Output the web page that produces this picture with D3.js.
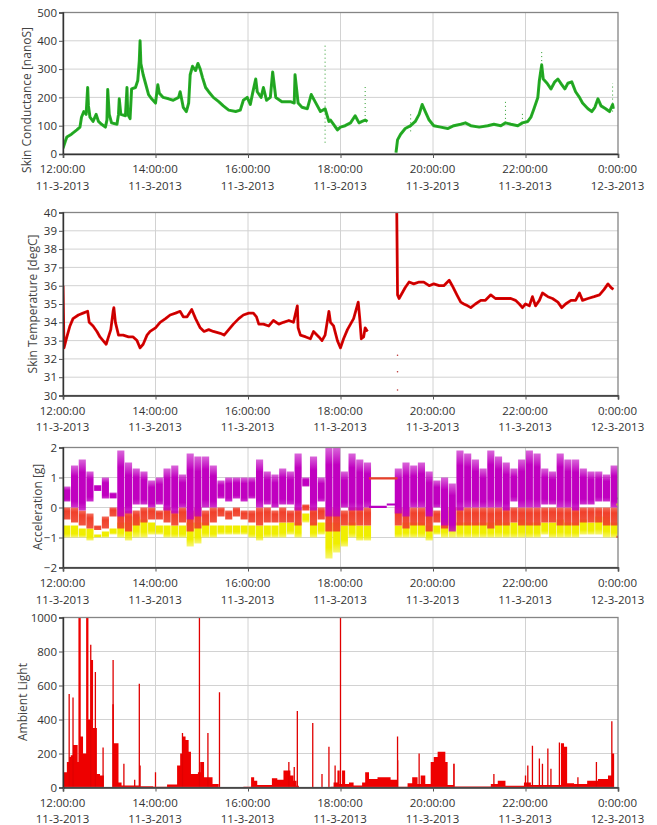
<!DOCTYPE html>
<html><head><meta charset="utf-8">
<script src="https://cdn.jsdelivr.net/npm/d3@7"></script>
<style>
body{margin:0;background:#fff;}
svg{display:block;font-family:"Open Sans",sans-serif;}
</style></head><body>
<svg id="c" width="657" height="825"></svg>
<script>
// ---------------- DATA ----------------
const startTime = [2013, 2, 11, 12, 0]; // 11-3-2013 12:00
const xTickMinutes = [0, 120, 240, 360, 480, 600, 720];
const xTimeLabels = ["12:00:00","14:00:00","16:00:00","18:00:00","20:00:00","22:00:00","0:00:00"];
const xDateLabels = ["11-3-2013","11-3-2013","11-3-2013","11-3-2013","11-3-2013","11-3-2013","12-3-2013"];

// Skin conductance [nanoS]: [minutes after 12:00, value]; null = gap
const scTicks = [0,100,200,300,400,500];
const conductance = [[0,20],[3,45],[5,60],[11,70],[18,85],[22,95],[24,130],[27,150],[30,140],[32,235],[33,170],[35,130],[39,115],[43,140],[46,115],[50,105],[55,95],[57,120],[58,228],[60,140],[63,110],[70,105],[72,140],[73,195],[75,140],[81,135],[83,235],[84,140],[87,125],[89,230],[94,235],[97,260],[99,330],[100,400],[101,320],[104,280],[107,250],[111,210],[115,195],[120,180],[123,245],[125,215],[130,200],[137,195],[143,190],[150,200],[152,220],[156,165],[160,150],[163,180],[165,280],[168,310],[172,295],[175,320],[178,300],[181,270],[185,235],[189,220],[195,200],[202,185],[208,170],[215,155],[224,150],[230,155],[234,190],[239,200],[243,175],[246,215],[250,265],[252,220],[257,200],[260,235],[264,190],[269,200],[272,290],[276,200],[284,185],[295,185],[300,180],[301,280],[305,180],[310,165],[317,160],[322,210],[327,185],[334,150],[340,160],[345,115],[347,120],[351,105],[356,85],[360,95],[366,100],[373,110],[379,135],[384,110],[388,115],[392,120],[395,115],[414,null],[432,5],[434,50],[438,70],[444,90],[451,100],[457,115],[462,140],[466,175],[470,150],[475,120],[481,100],[490,95],[499,90],[507,100],[516,105],[522,110],[529,100],[540,95],[551,100],[559,105],[568,100],[574,110],[581,105],[590,100],[596,110],[603,115],[607,130],[611,160],[616,200],[618,260],[621,315],[623,265],[628,250],[633,230],[638,255],[642,265],[647,245],[651,230],[655,250],[660,255],[665,220],[670,200],[674,180],[681,160],[686,150],[690,165],[694,195],[698,170],[704,160],[709,150],[713,175],[714,160]];
// scattered samples: [minute, low, high]
const conductanceScatter = [[340,40,390],[392,120,245],[451,80,150],[574,110,190],[596,110,150],[621,300,370],[713,150,250]];

// Skin temperature [degC]
const tempTicks = [30,31,32,33,34,35,36,37,38,39,40];
const temperature = [[0,36.0],[1.3,32.6],[5,33.2],[9,33.8],[13,34.2],[20,34.4],[26,34.5],[32,34.6],[34,34.0],[39,33.8],[44,33.5],[48,33.2],[52,33.0],[56,32.8],[59,33.2],[62,33.6],[65,34.6],[66,34.8],[68,34.0],[72,33.3],[78,33.3],[85,33.2],[91,33.2],[96,33.0],[100,32.6],[104,32.8],[109,33.3],[113,33.5],[120,33.7],[126,34.0],[133,34.2],[139,34.4],[146,34.5],[152,34.6],[156,34.3],[161,34.3],[167,34.7],[172,34.2],[178,33.7],[183,33.5],[189,33.6],[195,33.5],[204,33.4],[209,33.3],[215,33.6],[221,33.9],[228,34.2],[234,34.4],[241,34.5],[247,34.5],[251,34.3],[254,33.9],[260,33.9],[267,33.8],[273,34.1],[280,33.9],[286,34.0],[293,34.1],[299,34.0],[304,34.9],[305,33.7],[308,33.3],[315,33.2],[321,33.1],[325,33.5],[332,33.2],[336,33.0],[340,33.3],[345,34.6],[347,34.0],[351,33.8],[356,33.0],[360,32.6],[364,33.1],[369,33.6],[373,33.9],[377,34.2],[383,35.1],[385,34.2],[387,33.1],[390,33.2],[392,33.7],[395,33.5],[414,null],[433,40.0],[434,35.5],[436,35.3],[440,35.6],[444,35.9],[449,36.2],[455,36.1],[462,36.2],[468,36.2],[475,36.0],[481,36.1],[488,36.0],[494,36.0],[501,36.3],[505,36.0],[511,35.5],[516,35.1],[520,35.0],[525,34.9],[529,34.8],[535,35.0],[542,35.2],[548,35.2],[555,35.5],[561,35.3],[568,35.3],[574,35.3],[581,35.3],[587,35.2],[592,35.0],[596,34.8],[600,35.0],[605,34.9],[609,35.4],[613,34.9],[618,35.2],[622,35.6],[629,35.4],[635,35.3],[642,35.1],[647,34.8],[652,35.0],[659,35.2],[665,35.2],[670,35.6],[674,35.2],[681,35.3],[689,35.4],[696,35.5],[702,35.8],[707,36.1],[711,35.9],[714,35.8]];
const temperatureDots = [[434,32.2],[434,31.3],[434,30.3]];

// Acceleration [g]: ranges per 10-minute bin (72 bins), null = no samples
const accTicks = [-2,-1,0,1,2];
const accMagentaLo = [0.2,0.0,-0.1,0.2,0.55,0.3,0.3,-0.3,-0.2,0.1, 0.1,0.0,0.1,-0.1,-0.2,0.0,-0.4,-0.3,0.0,0.0, 0.3,0.2,0.3,0.2,0.3,0.0,0.1,0.0,0.1,0.1, -0.1,0.7,-0.1,0.2,-0.3,-0.3,0.0,-0.1,-0.1,0.0, null,null,null,-0.2,-0.3,0.0,0.0,-0.3,0.0,-0.6, -0.8,-0.1,0.0,0.0,0.0,0.0,0.0,-0.1,0.2,0.0, 0.0,0.0,0.1,0.1,0.0,0.0,-0.1,0.1,0.1,0.2, 0.2,0.0];
const accMagentaHi = [0.7,1.4,1.6,1.2,0.75,1.0,0.5,1.9,1.5,1.3, 1.2,0.9,1.0,1.3,1.4,1.1,1.8,1.7,1.7,1.4, 0.9,1.0,1.0,1.0,1.0,1.6,1.2,1.1,1.3,1.2, 1.8,1.0,1.7,1.0,2.0,2.0,1.2,1.8,1.6,1.5, null,null,null,1.3,1.5,1.4,1.5,1.2,0.9,1.0, 0.8,1.9,1.8,1.6,1.3,1.9,1.7,1.5,1.3,1.6, 1.9,1.8,1.3,1.2,1.8,1.6,1.6,1.3,1.2,1.2, 1.1,1.4];
const accRedLo = [-0.4,-0.5,-0.6,-0.7,-0.75,-0.7,-0.3,-0.7,-0.8,-0.6, -0.5,-0.4,-0.4,-0.5,-0.6,-0.5,-0.8,-0.7,-0.6,-0.5, -0.3,-0.4,-0.3,-0.4,-0.5,-0.6,-0.5,-0.5,-0.5,-0.5, -0.6,-0.1,-0.6,-0.4,-0.8,-0.8,-0.6,-0.6,-0.6,-0.6, null,null,null,-0.6,-0.7,-0.6,-0.6,-0.8,-0.5,-0.7, -0.6,-0.6,-0.6,-0.6,-0.6,-0.7,-0.6,-0.6,-0.5,-0.6, -0.6,-0.6,-0.5,-0.5,-0.6,-0.6,-0.6,-0.5,-0.5,-0.5, -0.6,-0.6];
const accRedHi = [0.0,0.0,-0.1,-0.2,-0.6,-0.3,0.0,0.0,-0.1,-0.1, 0.0,0.0,-0.1,0.0,-0.1,0.0,-0.1,0.0,-0.1,0.0, 0.0,-0.1,0.0,-0.1,-0.1,0.0,0.0,-0.1,0.0,-0.1, 0.0,0.1,0.0,0.0,0.0,0.0,-0.1,0.0,0.0,0.0, null,null,null,0.0,0.0,0.0,0.0,0.0,-0.1,-0.1, 0.0,0.0,0.0,0.0,0.0,0.0,0.0,0.0,0.0,0.0, 0.0,0.0,0.0,0.0,0.0,0.0,0.0,0.0,0.0,0.0, 0.0,0.0];
const accYellowLo = [-1.0,-1.0,-1.0,-1.1,-1.0,-1.0,-0.9,-1.0,-1.1,-1.0, -1.0,-0.9,-0.9,-1.0,-1.0,-1.0,-1.3,-1.2,-1.0,-1.0, -0.9,-0.9,-0.9,-0.9,-1.0,-1.1,-1.0,-1.0,-1.0,-0.9, -1.0,-0.5,-1.0,-0.9,-1.7,-1.5,-1.3,-1.0,-1.1,-1.1, null,null,null,-1.0,-1.0,-1.0,-1.0,-1.1,-0.9,-1.0, -1.0,-1.0,-1.0,-1.0,-1.0,-1.0,-1.0,-1.0,-1.0,-1.0, -1.0,-1.0,-0.9,-1.0,-1.0,-1.0,-1.0,-0.9,-0.9,-0.9, -1.0,-1.0];
const accYellowHi = [-0.6,-0.6,-0.7,-0.7,-0.9,-0.8,-0.7,-0.5,-0.5,-0.3, -0.4,-0.5,-0.6,-0.6,-0.6,-0.6,-0.5,-0.5,-0.5,-0.6, -0.6,-0.6,-0.6,-0.6,-0.6,-0.6,-0.6,-0.6,-0.5,-0.5, -0.5,-0.2,-0.5,-0.5,-0.5,-0.5,-0.6,-0.5,-0.6,-0.6, null,null,null,-0.6,-0.5,-0.5,-0.5,-0.6,-0.6,-0.4, 0.0,-0.5,-0.5,-0.5,-0.5,-0.5,-0.4,-0.5,-0.5,-0.4, -0.5,-0.5,-0.5,-0.5,-0.4,-0.5,-0.5,-0.4,-0.5,-0.3, -0.3,-0.5];
// constant segments when the sensor is at rest: [series, startMin, endMin, value]
const accFlat = [["red",397,434,0.97],["magenta",397,420,0.02],["magenta",420,434,0.1],["magenta",718,720,0.3],["yellow",718,720,0.1],["red",718,720,-0.98]];

// Ambient light: step levels [minute, value] and narrow spikes [minute, value]
const lightTicks = [0,200,400,600,800,1000];
const lightLevels = [[0,90],[5,150],[8,180],[10,190],[13,250],[19,150],[20,1000],[23,300],[26,200],[30,1000],[33,400],[36,750],[39,350],[44,80],[48,70],[53,0],[64,490],[66,260],[72,30],[76,12],[100,8],[117,5],[135,18],[148,130],[152,200],[155,300],[159,280],[163,210],[166,80],[175,90],[178,150],[183,60],[194,20],[202,3],[234,5],[244,60],[248,40],[252,15],[271,55],[278,45],[286,100],[295,70],[299,40],[303,10],[306,2],[347,5],[351,30],[356,100],[359,20],[362,100],[366,20],[371,30],[377,12],[388,30],[392,90],[397,50],[408,60],[425,45],[434,160],[435,5],[447,25],[453,60],[460,20],[464,70],[470,20],[477,150],[481,180],[486,210],[496,150],[499,15],[507,140],[508,6],[555,20],[564,40],[574,10],[598,30],[607,15],[646,260],[650,240],[654,25],[663,20],[680,40],[694,50],[707,70],[712,200],[715,0]];
const lightSpikes = [[8,550],[13,530],[36,840],[42,680],[52,235],[65,750],[79,140],[93,45],[99,610],[100,130],[120,90],[155,320],[177,1000],[188,320],[203,560],[293,150],[300,120],[304,450],[324,380],[336,80],[345,240],[353,130],[360,1000],[434,300],[462,200],[507,140],[559,80],[600,70],[603,130],[609,245],[618,170],[622,140],[629,230],[633,110],[644,265],[668,60],[692,150],[712,390]];

// ---------------- DRAWING ----------------
const svg = d3.select("#c");
svg.append("rect").attr("width",657).attr("height",825).attr("fill","#fff");
const t0 = new Date(startTime[0], startTime[1], startTime[2], startTime[3], startTime[4]);
const toDate = m => new Date(t0.getTime() + m*60000);
const L = 63, R = 618;
const x = d3.scaleTime().domain([toDate(0), toDate(720)]).range([L, R]);
const xTickDates = xTickMinutes.map(toDate);

const defs = svg.append("defs");
function grad(id, color, stops){
  const g = defs.append("linearGradient").attr("id",id).attr("x1",0).attr("y1",0).attr("x2",0).attr("y2",1);
  stops.forEach(s => g.append("stop").attr("offset",s[0]).attr("stop-color",color).attr("stop-opacity",s[1]));
}
grad("gM","#c000c0",[[0,0.6],[0.25,1],[0.85,1],[1,0.8]]);
grad("gR","#f0402a",[[0,0.75],[0.3,1],[1,0.9]]);
grad("gY","#f0ee00",[[0,1],[0.7,1],[1,0.55]]);
const accColors = {magenta:"#b800c0", red:"#e8402a", yellow:"#e8e400"};

function panel(p){
  const y = d3.scaleLinear().domain(p.domain).range([p.bottom, p.top]);
  const g = svg.append("g");
  // grid
  g.append("g").selectAll("line").data(p.ticks.slice(1,-1)).join("line")
    .attr("x1",L).attr("x2",R).attr("y1",d=>y(d)).attr("y2",d=>y(d))
    .attr("stroke","#d2d2d2").attr("stroke-width",1);
  g.append("g").selectAll("line").data(xTickDates.slice(1,-1)).join("line")
    .attr("y1",p.top).attr("y2",p.bottom).attr("x1",d=>x(d)).attr("x2",d=>x(d))
    .attr("stroke","#d2d2d2").attr("stroke-width",1);
  // data
  const cid = "clip"+p.id;
  defs.append("clipPath").attr("id",cid).append("rect")
    .attr("x",L).attr("y",p.top).attr("width",R-L).attr("height",p.bottom-p.top);
  const gd = g.append("g").attr("clip-path",`url(#${cid})`);
  p.draw(gd, y);
  // frame
  g.append("rect").attr("x",L).attr("y",p.top).attr("width",R-L).attr("height",p.bottom-p.top)
    .attr("fill","none").attr("stroke","#858585").attr("stroke-width",1.3);
  // y axis
  const ya = g.append("g").attr("transform",`translate(${L},0)`)
    .call(d3.axisLeft(y).tickValues(p.ticks).tickSize(4).tickPadding(2).tickFormat(d3.format("d")));
  ya.select(".domain").attr("stroke","#333").attr("stroke-width",1.4);
  ya.selectAll(".tick line").attr("stroke","#555");
  ya.selectAll(".tick text").attr("fill","#333").style("font-size","11.5px").attr("font-family","Open Sans");
  // x axis
  const xa = g.append("g").attr("transform",`translate(0,${p.bottom})`)
    .call(d3.axisBottom(x).tickValues(xTickDates).tickSize(4).tickFormat((d,i)=>xTimeLabels[i]));
  xa.select(".domain").attr("stroke","#333").attr("stroke-width",1.6);
  xa.selectAll(".tick line").attr("stroke","#555");
  xa.selectAll(".tick text").attr("fill","#333").style("font-size","11.5px").attr("font-family","Open Sans")
    .attr("y",p.xl).attr("dy",null).attr("dx",-1);
  xa.selectAll(".tick").append("text").text((d,i)=>xDateLabels[i])
    .attr("fill","#333").style("font-size","11.5px").attr("font-family","Open Sans")
    .attr("text-anchor","middle").attr("y",p.xl+16.5).attr("dx",-1);
  // title
  g.append("text").attr("transform",`translate(${p.tx},${p.ty}) rotate(-90)`)
    .attr("text-anchor","middle").attr("dominant-baseline","central")
    .attr("fill","#444").style("font-size","12px").text(p.title);
}

// Panel 1: skin conductance
panel({id:1, top:12.5, bottom:154, domain:[0,500], ticks:scTicks, xl:19, tx:26, ty:100,
  title:"Skin Conductance [nanoS]",
  draw:(g,y)=>{
    g.selectAll("line.s").data(conductanceScatter).join("line")
      .attr("x1",d=>x(toDate(d[0]))).attr("x2",d=>x(toDate(d[0])))
      .attr("y1",d=>y(d[1])).attr("y2",d=>y(d[2]))
      .attr("stroke","#2a9a2a").attr("stroke-width",1).attr("stroke-dasharray","1,3");
    const line = d3.line().defined(d=>d[1]!=null).x(d=>x(toDate(d[0]))).y(d=>y(d[1]));
    g.append("path").attr("d",line(conductance)).attr("fill","none")
      .attr("stroke","#26b026").attr("stroke-width",3).attr("stroke-linejoin","round");
    g.append("path").attr("d",line(conductance)).attr("fill","none")
      .attr("stroke","#1a7a1a").attr("stroke-width",0.6).attr("stroke-opacity",0.6);
  }});

// Panel 2: skin temperature
panel({id:2, top:212.5, bottom:395.5, domain:[30,40], ticks:tempTicks, xl:19, tx:32, ty:304,
  title:"Skin Temperature [degC]",
  draw:(g,y)=>{
    const line = d3.line().defined(d=>d[1]!=null).x(d=>x(toDate(d[0]))).y(d=>y(d[1]));
    g.append("path").attr("d",line(temperature)).attr("fill","none")
      .attr("stroke","#e00000").attr("stroke-width",2.8).attr("stroke-linejoin","round");
    g.append("path").attr("d",line(temperature)).attr("fill","none")
      .attr("stroke","#700000").attr("stroke-width",0.6).attr("stroke-opacity",0.6);
    g.selectAll("circle").data(temperatureDots).join("circle")
      .attr("cx",d=>x(toDate(d[0]))).attr("cy",d=>y(d[1])).attr("r",0.8).attr("fill","#b33");
  }});

// Panel 3: acceleration
panel({id:3, top:447.5, bottom:567.5, domain:[-2,2], ticks:accTicks, xl:19.5, tx:37, ty:507,
  title:"Acceleration [g]",
  draw:(g,y)=>{
    const series = [["gY",accYellowLo,accYellowHi],["gR",accRedLo,accRedHi],["gM",accMagentaLo,accMagentaHi]];
    series.forEach(([gid,lo,hi])=>{
      const bins = lo.map((v,k)=>({k, lo:v, hi:hi[k]})).filter(b=>b.lo!=null);
      g.append("g").selectAll("rect").data(bins).join("rect")
        .attr("x",b=>x(toDate(b.k*10))+0.3)
        .attr("width",b=>x(toDate(b.k*10+10))-x(toDate(b.k*10))-0.6)
        .attr("y",b=>y(b.hi)).attr("height",b=>Math.max(1.5,y(b.lo)-y(b.hi)))
        .attr("fill",`url(#${gid})`);
    });
    g.selectAll("line.f").data(accFlat).join("line")
      .attr("x1",d=>x(toDate(d[1]))).attr("x2",d=>x(toDate(d[2])))
      .attr("y1",d=>y(d[3])).attr("y2",d=>y(d[3]))
      .attr("stroke",d=>accColors[d[0]]).attr("stroke-width",2.2);
  }});

// Panel 4: ambient light
panel({id:4, top:617.5, bottom:787.5, domain:[0,1000], ticks:lightTicks, xl:19, tx:22, ty:702,
  title:"Ambient Light",
  draw:(g,y)=>{
    const area = d3.area().curve(d3.curveStepAfter)
      .x(d=>x(toDate(d[0]))).y0(y(0)).y1(d=>y(Math.min(d[1],1000)));
    g.append("path").attr("d",area(lightLevels)).attr("fill","#ee0000");
    g.selectAll("line.sp").data(lightSpikes).join("line")
      .attr("x1",d=>x(toDate(d[0]))).attr("x2",d=>x(toDate(d[0])))
      .attr("y1",y(0)).attr("y2",d=>y(Math.min(d[1],1000)))
      .attr("stroke","#e00000").attr("stroke-width",1.3);
  }});
</script>
</body></html>
